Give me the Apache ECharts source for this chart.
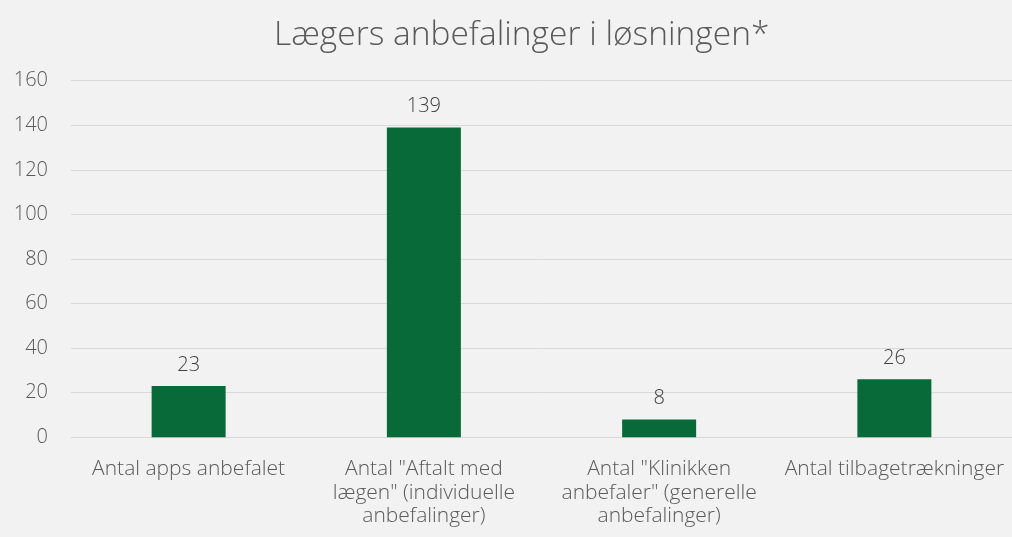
<!DOCTYPE html>
<html><head><meta charset="utf-8">
<script src="https://cdn.jsdelivr.net/npm/echarts@6/dist/echarts.min.js"></script>
<style>html,body{margin:0;padding:0;background:#f2f2f2}#c{width:1012px;height:537px}</style>
</head><body><div id="c"></div>
<script>
const title = 'Lægers anbefalinger i løsningen*';
const categories = ['Antal apps anbefalet', 'Antal "Aftalt med\nlægen" (individuelle\nanbefalinger)', 'Antal "Klinikken\nanbefaler" (generelle\nanbefalinger)', 'Antal tilbagetrækninger'];
const values = [23, 139, 8, 26];
const yTicks = {min: 0, max: 160, interval: 20};

const font = '"Open Sans", sans-serif';
const chart = echarts.init(document.getElementById('c'));
chart.setOption({
  backgroundColor: '#f2f2f2',
  animation: false,
  title: {text: title, left: 269, top: 13,
    textStyle: {fontFamily: font, fontWeight: 300, fontSize: 33.5, color: '#595959'}},
  grid: {left: 71, right: -3, top: 80.7, bottom: 99.7, containLabel: false},
  xAxis: {type: 'category', data: categories,
    axisLine: {show: false}, axisTick: {show: false},
    axisLabel: {fontFamily: font, fontWeight: 300, fontSize: 21, color: '#595959', margin: 20, lineHeight: 23.5, interval: 0}},
  yAxis: {type: 'value', min: yTicks.min, max: yTicks.max, interval: yTicks.interval,
    axisLine: {show: false}, axisTick: {show: false},
    splitLine: {lineStyle: {color: '#d9d9d9', width: 1}},
    axisLabel: {fontFamily: font, fontWeight: 300, fontSize: 20, color: '#595959', margin: 23}},
  series: [{type: 'bar', data: values, barWidth: 74,
    itemStyle: {color: '#076a38'},
    label: {show: true, position: 'top', distance: 11, fontFamily: font, fontWeight: 300, fontSize: 20, color: '#404040'}}]
});
</script></body></html>
